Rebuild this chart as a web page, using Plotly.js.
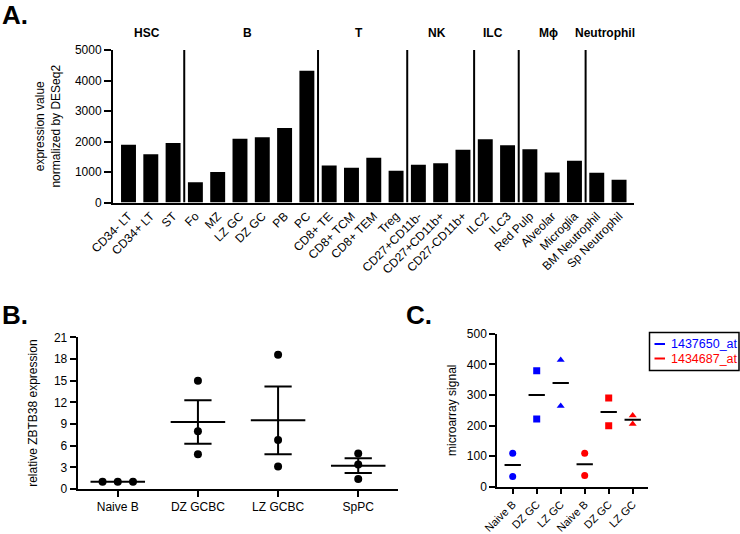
<!DOCTYPE html>
<html><head><meta charset="utf-8">
<script src="https://cdn.plot.ly/plotly-3.0.1.min.js"></script>
<style>html,body{margin:0;padding:0;background:#fff}#chart{width:740px;height:534px}</style>
</head><body><div id="chart"></div>
<script>
// ---------- Panel A data ----------
const cellTypes = ['CD34- LT','CD34+ LT','ST','Fo','MZ','LZ GC','DZ GC','PB','PC',
  'CD8+ TE','CD8+ TCM','CD8+ TEM','Treg','CD27+CD11b-','CD27+CD11b+','CD27-CD11b+',
  'ILC2','ILC3','Red Pulp','Alveolar','Microglia','BM Neutrophil','Sp Neutrophil'];
const expressionValues = [1895,1580,1950,660,1000,2090,2140,2445,4320,
  1217,1140,1467,1040,1237,1283,1730,2072,1875,1743,987,1368,974,743];
const groupNames = ['HSC','B','T','NK','ILC','M\u03D5','Neutrophil'];
const groupSizes = [3,6,4,3,2,3,2];
const aTickValues = [0,1000,2000,3000,4000,5000];

// ---------- Panel B data ----------
const qpcrGroups = ['Naive B','DZ GCBC','LZ GCBC','SpPC'];
const naiveB = [1.0,1.0,1.0];
const dzGCBC = [15.0,8.0,4.8];
const lzGCBC = [18.6,6.8,3.1];
const spPC  = [4.9,3.4,1.4];
const bTickValues = [0,3,6,9,12,15,18,21];

// ---------- Panel C data ----------
const arrayLabels = ['Naive B','DZ GC','LZ GC','Naive B','DZ GC','LZ GC'];
const probeNames = ['1437650_at','1434687_at'];
const probe1NaiveB = [109,33];
const probe1DZ = [379,221];
const probe1LZ = [414,264];
const probe2NaiveB = [109,37];
const probe2DZ = [290,199];
const probe2LZ = [233,205];
const cTickValues = [0,100,200,300,400,500];

// ---------- styles ----------
const FONT = 'Arial, "Liberation Sans", sans-serif';
const probeColors = ['#0000ff','#ff0000'];
const groupSymbols = ['circle','square','triangle-up'];
const W = 740, H = 534;
const px = v => v / W, py = v => 1 - v / H;

const traces = [];
// Panel A bars
traces.push({type:'bar', x: cellTypes.map((_, i) => i), y: expressionValues,
  marker:{color:'#000'}, width:0.67, xaxis:'x', yaxis:'y', hoverinfo:'skip'});

// Panel B
const mean = a => a.reduce((s, v) => s + v, 0) / a.length;
const sem = a => { const m = mean(a); return Math.sqrt(a.reduce((s, v) => s + (v - m) ** 2, 0) / (a.length - 1)) / Math.sqrt(a.length); };
const bSets = [naiveB, dzGCBC, lzGCBC, spPC];
const jitterStep = 0.19;
const bx = [], by = [];
bSets.forEach((vals, g) => {
  vals.forEach((v, k) => {
    const same = vals.map((w, j) => [w, j]).filter(p => Math.abs(p[0] - v) < 0.2);
    const idx = same.findIndex(p => p[1] === k);
    const off = same.length > 1 ? (idx - (same.length - 1) / 2) * jitterStep : 0;
    bx.push(g + off); by.push(v);
  });
});
const mlx = [], mly = [];
bSets.forEach((vals, g) => {
  const m = mean(vals), s = sem(vals);
  mlx.push(g - 0.34, g + 0.34, null); mly.push(m, m, null);
  if (s > 0) {
    mlx.push(g, g, null); mly.push(m - s, m + s, null);
    mlx.push(g - 0.17, g + 0.17, null); mly.push(m + s, m + s, null);
    mlx.push(g - 0.17, g + 0.17, null); mly.push(m - s, m - s, null);
  }
});
traces.push({type:'scatter', mode:'lines', x: mlx, y: mly, line:{color:'#000', width:2},
  xaxis:'x2', yaxis:'y2', hoverinfo:'skip', connectgaps:false});
traces.push({type:'scatter', mode:'markers', x: bx, y: by,
  marker:{color:'#000', size:8, symbol:'circle'}, xaxis:'x2', yaxis:'y2', hoverinfo:'skip'});

// Panel C
const cSets = [[probe1NaiveB, probe1DZ, probe1LZ],[probe2NaiveB, probe2DZ, probe2LZ]];
const cmx = [], cmy = [];
cSets.forEach((sets, p) => {
  sets.forEach((vals, g) => {
    const xi = p * 3 + g;
    traces.push({type:'scatter', mode:'markers', x: vals.map(() => xi), y: vals,
      marker:{color: probeColors[p], size:7, symbol: groupSymbols[g]},
      xaxis:'x3', yaxis:'y3', hoverinfo:'skip'});
    const m = mean(vals);
    cmx.push(xi - 0.34, xi + 0.34, null); cmy.push(m, m, null);
  });
});
traces.push({type:'scatter', mode:'lines', x: cmx, y: cmy, line:{color:'#000', width:2},
  xaxis:'x3', yaxis:'y3', hoverinfo:'skip'});

// separators & group labels for panel A
const shapes = [];
const annotations = [];
let start = 0;
groupSizes.forEach((n, gi) => {
  const center = start + (n - 1) / 2;
  annotations.push({xref:'x', yref:'paper', x: center - 0.15, y: py(33), text:'<b>' + groupNames[gi] + '</b>',
    showarrow:false, font:{family:FONT, size:12, color:'#000'}, xanchor:'center', yanchor:'middle'});
  start += n;
  if (gi < groupSizes.length - 1) {
    shapes.push({type:'line', xref:'x', yref:'y', x0: start - 0.5, x1: start - 0.5, y0: 0, y1: 5000,
      line:{color:'#000', width:2}});
  }
});

// panel letters
[['A.', 0, 15], ['B.', 0, 315], ['C.', 404, 315]].forEach(([t, x, y]) => {
  annotations.push({xref:'paper', yref:'paper', x: px(x), y: py(y), text:'<b>' + t + '</b>', showarrow:false,
    font:{family:FONT, size:26, color:'#000'}, xanchor:'left', yanchor:'middle'});
});

// legend panel C
shapes.push({type:'rect', xref:'paper', yref:'paper', x0: px(649.5), x1: px(739), y0: py(370.5), y1: py(332.5),
  line:{color:'#000', width:1.5}, fillcolor:'rgba(0,0,0,0)'});
probeNames.forEach((nm, p) => {
  const yy = 344 + p * 14.5;
  shapes.push({type:'line', xref:'paper', yref:'paper', x0: px(654.5), x1: px(665), y0: py(yy), y1: py(yy),
    line:{color: probeColors[p], width:2}});
  annotations.push({xref:'paper', yref:'paper', x: px(669), y: py(yy), text: nm, showarrow:false,
    font:{family:FONT, size:12.5, color: probeColors[p]}, xanchor:'left', yanchor:'middle'});
});

const axisBase = {showline:true, linecolor:'#000', linewidth:2, ticks:'outside', tickcolor:'#000',
  tickwidth:2, ticklen:6, showgrid:false, zeroline:false, fixedrange:true,
  tickfont:{family:FONT, size:12, color:'#000'}};

const layout = {
  width: W, height: H, margin:{l:0, r:0, t:0, b:0}, paper_bgcolor:'#fff', plot_bgcolor:'#fff',
  showlegend:false, font:{family:FONT, color:'#000'},
  xaxis: Object.assign({}, axisBase, {domain:[px(113), px(634)], range:[-0.695, 22.67], anchor:'y',
    tickvals: cellTypes.map((_, i) => i), ticktext: cellTypes, tickangle:-45, ticks:'',
    tickfont:{family:FONT, size:12, color:'#000'}}),
  yaxis: Object.assign({}, axisBase, {domain:[py(202.5), py(50)], range:[0, 5000], anchor:'x',
    tickvals: aTickValues, ticklen:7, tickfont:{family:FONT, size:12, color:'#000'},
    title:{text:'expression value<br>normalized by DESeq2', font:{family:FONT, size:12, color:'#000'}, standoff:12}}),
  xaxis2: Object.assign({}, axisBase, {domain:[px(77.7), px(398.3)], range:[-0.5, 3.5], anchor:'y2',
    tickvals:[0,1,2,3], ticktext: qpcrGroups, tickfont:{family:FONT, size:12, color:'#000'}}),
  yaxis2: Object.assign({}, axisBase, {domain:[py(489), py(337.3)], range:[0, 21], anchor:'x2',
    tickvals: bTickValues, tickfont:{family:FONT, size:12, color:'#000'},
    title:{text:'relative ZBTB38 expression', font:{family:FONT, size:12, color:'#000'}, standoff:14}}),
  xaxis3: Object.assign({}, axisBase, {domain:[px(497.3), px(648.3)], range:[-0.642, 5.65], anchor:'y3',
    tickvals:[0,1,2,3,4,5], ticktext: arrayLabels, tickangle:-45, ticklen:5,
    tickfont:{family:FONT, size:11, color:'#000'}}),
  yaxis3: Object.assign({}, axisBase, {domain:[py(486.7), py(333.7)], range:[0, 500], anchor:'x3',
    tickvals: cTickValues, tickfont:{family:FONT, size:12, color:'#000'},
    title:{text:'microarray signal', font:{family:FONT, size:12, color:'#000'}, standoff:8}}),
  shapes: shapes, annotations: annotations
};
Plotly.newPlot('chart', traces, layout, {staticPlot:true, displayModeBar:false});
</script></body></html>
